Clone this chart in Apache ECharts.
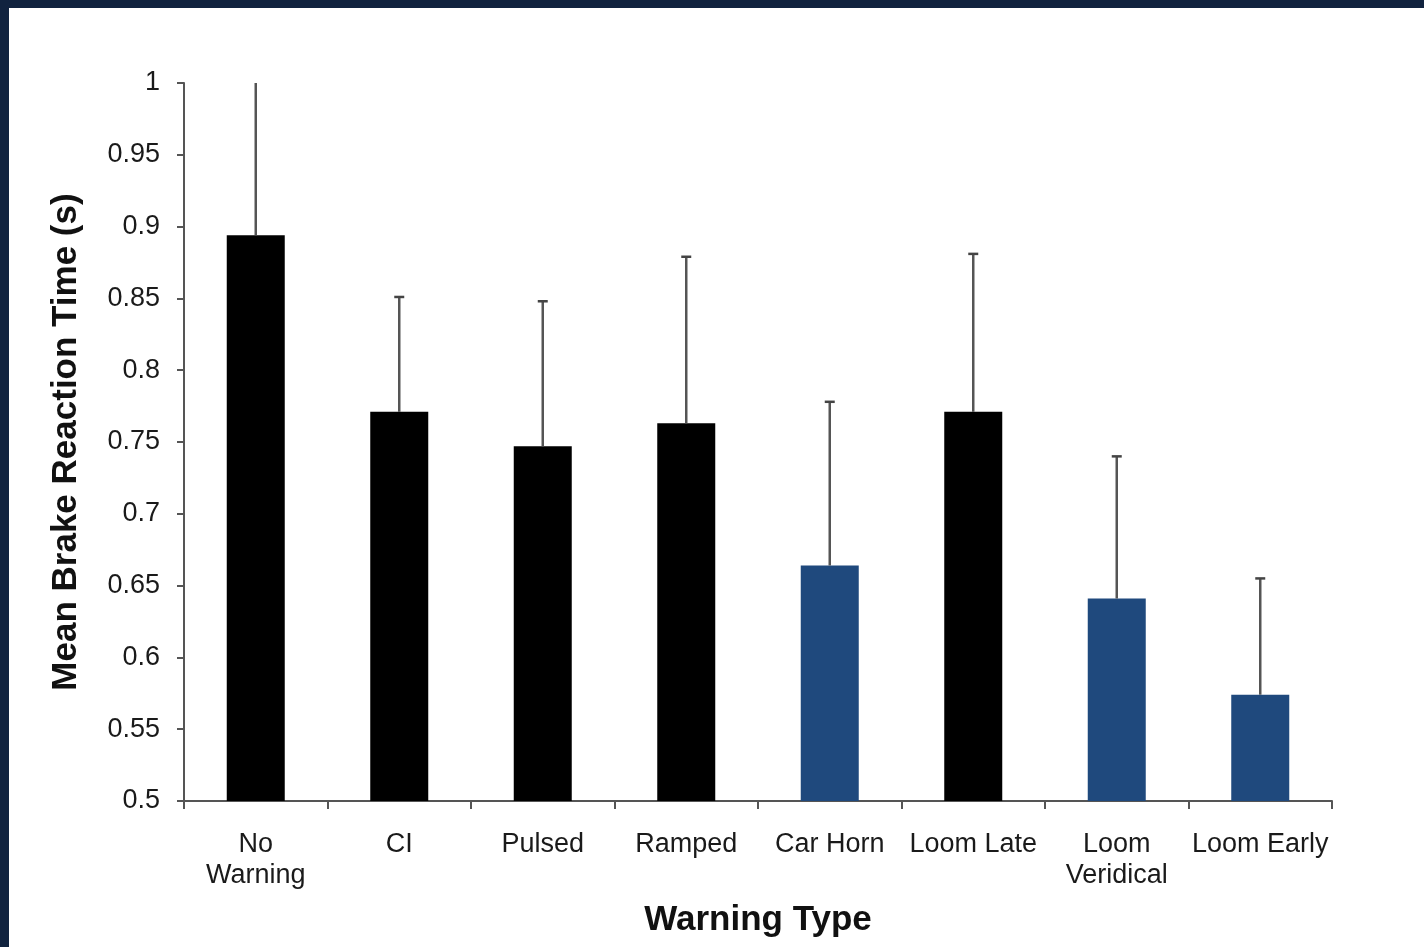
<!DOCTYPE html>
<html>
<head>
<meta charset="utf-8">
<script src="https://cdn.jsdelivr.net/npm/echarts@6/dist/echarts.min.js"></script>
<style>
  html, body { margin: 0; padding: 0; width: 1424px; height: 947px; background: #11233f; overflow: hidden; }
  #chart { position: absolute; left: 9px; top: 8px; width: 1415px; height: 939px; background: #fff; }
</style>
</head>
<body>
<div id="chart"></div>
<script>
// Warning conditions and mean brake reaction times (s)
const categories = ['No\nWarning', 'CI', 'Pulsed', 'Ramped', 'Car Horn', 'Loom Late', 'Loom\nVeridical', 'Loom Early'];
const meanRT = [0.894, 0.771, 0.747, 0.763, 0.664, 0.771, 0.641, 0.574];
const errorRT = [0.106, 0.080, 0.101, 0.116, 0.114, 0.110, 0.099, 0.081];
// Conditions drawn in blue
const blueGroup = ['Car Horn', 'Loom\nVeridical', 'Loom Early'];
const yTicks = ['0.5', '0.55', '0.6', '0.65', '0.7', '0.75', '0.8', '0.85', '0.9', '0.95', '1'];

const chart = echarts.init(document.getElementById('chart'), null, { renderer: 'canvas' });
const FONT = '"Liberation Sans", Arial, sans-serif';
const Y_MIN = Number(yTicks[0]);
const Y_MAX = Number(yTicks[yTicks.length - 1]);

const option = {
  backgroundColor: '#ffffff',
  animation: false,
  grid: { left: 175, right: 92, top: 75, bottom: 146 },
  xAxis: {
    type: 'category',
    data: categories,
    boundaryGap: true,
    name: 'Warning Type',
    nameLocation: 'middle',
    nameGap: 102,
    nameTextStyle: { fontFamily: FONT, fontSize: 35, fontWeight: 'bold', color: '#111' },
    axisLine: { lineStyle: { color: '#555', width: 2 } },
    axisTick: { show: true, length: 8, lineStyle: { color: '#555', width: 2 } },
    axisLabel: { fontFamily: FONT, fontSize: 27, color: '#1a1a1a', margin: 28, lineHeight: 31, interval: 0 },
    splitLine: { show: false }
  },
  yAxis: {
    type: 'value',
    min: Y_MIN,
    max: Y_MAX,
    interval: 0.05,
    name: 'Mean Brake Reaction Time (s)',
    nameLocation: 'middle',
    nameGap: 100,
    nameRotate: 90,
    nameTextStyle: { fontFamily: FONT, fontSize: 35, fontWeight: 'bold', color: '#111' },
    axisLine: { show: true, lineStyle: { color: '#555', width: 2 } },
    axisTick: { show: true, length: 7, lineStyle: { color: '#555', width: 2 } },
    axisLabel: {
      fontFamily: FONT, fontSize: 27, color: '#1a1a1a', margin: 24,
      formatter: v => yTicks.find(t => Math.abs(Number(t) - v) < 1e-9) || ''
    },
    splitLine: { show: false }
  },
  series: [
    {
      type: 'bar',
      data: meanRT.map((v, i) => ({
        value: v,
        itemStyle: { color: blueGroup.includes(categories[i]) ? '#1f497d' : '#000000' }
      })),
      barWidth: 58,
      z: 2
    },
    {
      type: 'custom',
      z: 3,
      data: meanRT.map((v, i) => [i, v, v + errorRT[i]]),
      renderItem: function (params, api) {
        const x = api.value(0);
        const base = api.coord([x, api.value(1)]);
        const top = api.coord([x, api.value(2)]);
        const children = [{
          type: 'line',
          shape: { x1: base[0], y1: base[1], x2: top[0], y2: top[1] },
          style: { stroke: '#555', lineWidth: 2.5 }
        }];
        if (api.value(2) < Y_MAX - 1e-6) {
          children.push({
            type: 'line',
            shape: { x1: top[0] - 5, y1: top[1], x2: top[0] + 5, y2: top[1] },
            style: { stroke: '#444', lineWidth: 2.5 }
          });
        }
        return { type: 'group', children: children };
      }
    }
  ]
};
chart.setOption(option);
</script>
</body>
</html>
